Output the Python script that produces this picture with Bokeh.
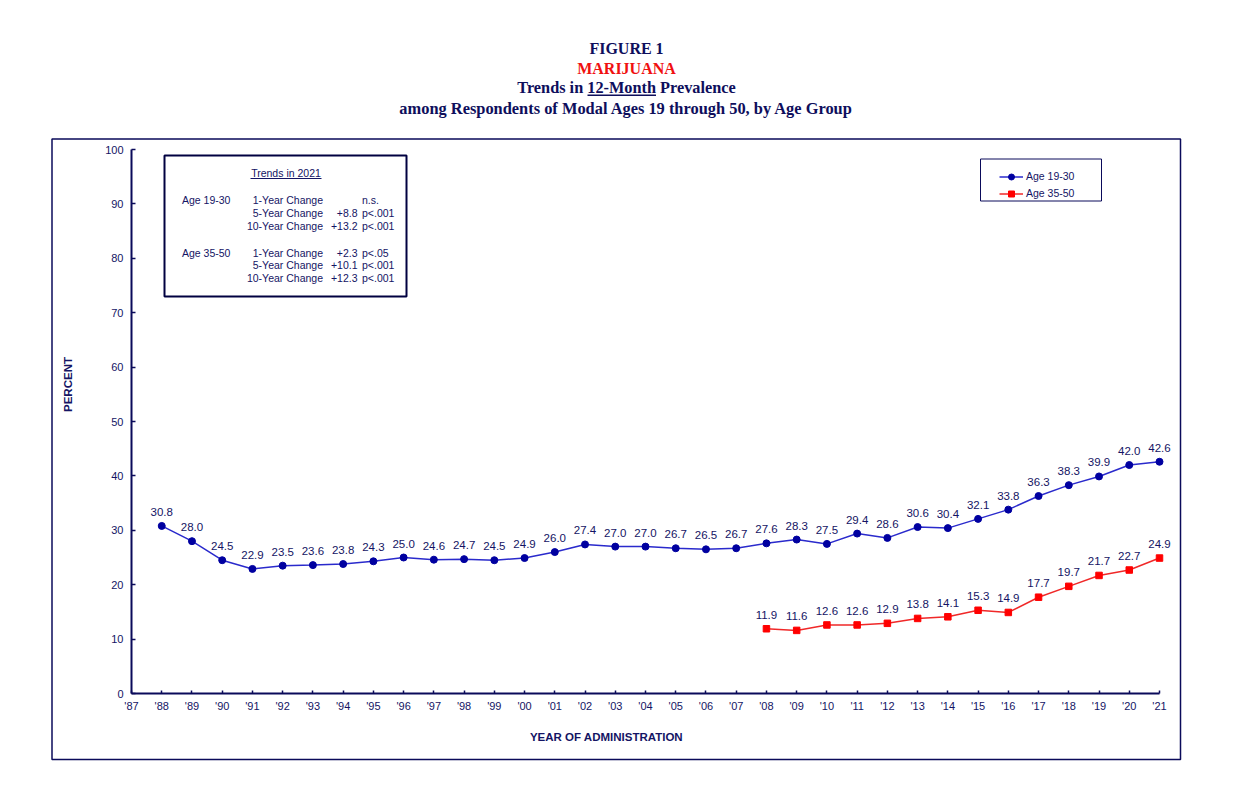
from bokeh.plotting import figure
from bokeh.models import (Range1d, FixedTicker, ColumnDataSource, LabelSet, Label,
                          BoxAnnotation, Legend, LegendItem)
from bokeh.embed import file_html
from bokeh.resources import INLINE
from bokeh.core.properties import value
import math

# ---------------- data ----------------
years_19_30 = [1988, 1989, 1990, 1991, 1992, 1993, 1994, 1995, 1996, 1997, 1998, 1999,
               2000, 2001, 2002, 2003, 2004, 2005, 2006, 2007, 2008, 2009, 2010, 2011,
               2012, 2013, 2014, 2015, 2016, 2017, 2018, 2019, 2020, 2021]
prev_19_30 = [30.8, 28.0, 24.5, 22.9, 23.5, 23.6, 23.8, 24.3, 25.0, 24.6, 24.7, 24.5,
              24.9, 26.0, 27.4, 27.0, 27.0, 26.7, 26.5, 26.7, 27.6, 28.3, 27.5, 29.4,
              28.6, 30.6, 30.4, 32.1, 33.8, 36.3, 38.3, 39.9, 42.0, 42.6]
years_35_50 = [2008, 2009, 2010, 2011, 2012, 2013, 2014, 2015, 2016, 2017, 2018, 2019,
               2020, 2021]
prev_35_50 = [11.9, 11.6, 12.6, 12.6, 12.9, 13.8, 14.1, 15.3, 14.9, 17.7, 19.7, 21.7,
              22.7, 24.9]

tick_years = [1987, 1988, 1989, 1990, 1991, 1992, 1993, 1994, 1995, 1996, 1997, 1998,
              1999, 2000, 2001, 2002, 2003, 2004, 2005, 2006, 2007, 2008, 2009, 2010,
              2011, 2012, 2013, 2014, 2015, 2016, 2017, 2018, 2019, 2020, 2021]
tick_labels = ["'87", "'88", "'89", "'90", "'91", "'92", "'93", "'94", "'95", "'96",
               "'97", "'98", "'99", "'00", "'01", "'02", "'03", "'04", "'05", "'06",
               "'07", "'08", "'09", "'10", "'11", "'12", "'13", "'14", "'15", "'16",
               "'17", "'18", "'19", "'20", "'21"]
y_ticks = [0, 10, 20, 30, 40, 50, 60, 70, 80, 90, 100]

series_names = ["Age 19-30", "Age 35-50"]
title_lines = ["FIGURE 1", "MARIJUANA", "Trends in 12-Month Prevalence",
               "among Respondents of Modal Ages 19 through 50, by Age Group"]
x_title = "YEAR OF ADMINISTRATION"
y_title = "PERCENT"

inset_title = "Trends in 2021"
inset_groups = ["Age 19-30", "Age 35-50"]
inset_changes = ["1-Year Change", "5-Year Change", "10-Year Change"]
inset_values = [["", "+8.8", "+13.2"], ["+2.3", "+10.1", "+12.3"]]
inset_sig = [["n.s.", "p<.001", "p<.001"], ["p<.05", "p<.001", "p<.001"]]

# ---------------- styles ----------------
NAVY = "#141464"
TITLE_NAVY = "#0E0E5C"
AXIS = "#0A0A5A"
BLUE_LINE = "#2A2ACC"
BLUE_MARK = "#0000A0"
RED_LINE = "#F02828"
RED_MARK = "#FF0000"
SANS = "Liberation Sans"
SERIF = "Liberation Serif"

W, H = 1229, 788
AX_L, AX_R, AX_T, AX_B = 131, 1159, 149, 693   # axis box on the page (1987..2021, 0..100)
XPX = (AX_R - AX_L) / (2021 - 1987)
YPX = (AX_B - AX_T) / 100.0


def dx(px):  # page px -> data x
    return 1987 + (px - AX_L) / XPX


def dy(py):  # page px -> data y
    return (AX_B - py) / YPX


# the frame covers the whole canvas; axes are pinned with fixed_location
p = figure(width=W, height=H, x_range=Range1d(dx(0), dx(W)), y_range=Range1d(dy(H), dy(0)),
           output_backend="svg", toolbar_location=None, title=None,
           min_border=0, min_border_left=0, min_border_right=0, min_border_top=0,
           min_border_bottom=0)
p.grid.visible = False
p.outline_line_color = None
p.background_fill_color = "white"
p.border_fill_color = "white"

# axes
for ax in (p.xaxis[0], p.yaxis[0]):
    ax.axis_line_color = AXIS
    ax.axis_line_width = 2
    ax.major_tick_line_color = AXIS
    ax.major_tick_line_width = 1.5
    ax.major_tick_out = 0
    ax.minor_tick_line_color = None
    ax.major_label_text_font = SANS
    ax.major_label_text_font_size = "11px"
    ax.major_label_text_color = NAVY

p.xaxis.fixed_location = 0
p.yaxis.fixed_location = 1987
p.xaxis.ticker = FixedTicker(ticks=tick_years)
p.xaxis.major_label_overrides = {y: t for y, t in zip(tick_years, tick_labels)}
p.xaxis.bounds = (1987, 2021)
p.xaxis.major_tick_in = 3
p.xaxis.major_label_standoff = 6
p.yaxis.ticker = FixedTicker(ticks=y_ticks)
p.yaxis.bounds = (0, 100)
p.yaxis.major_tick_in = 4
p.yaxis.major_label_standoff = 8

# series
src1 = ColumnDataSource(dict(x=years_19_30, y=prev_19_30,
                             label=[f"{v:.1f}" for v in prev_19_30]))
src2 = ColumnDataSource(dict(x=years_35_50, y=prev_35_50,
                             label=[f"{v:.1f}" for v in prev_35_50]))

l1 = p.line("x", "y", source=src1, line_color=BLUE_LINE, line_width=1.5)
s1 = p.scatter("x", "y", source=src1, marker="circle", size=7, fill_color=BLUE_MARK,
               line_color=BLUE_MARK)
l2 = p.line("x", "y", source=src2, line_color=RED_LINE, line_width=1.5)
s2 = p.scatter("x", "y", source=src2, marker="square", size=6.5, fill_color=RED_MARK,
               line_color=RED_MARK)

for src in (src1, src2):
    p.add_layout(LabelSet(x="x", y="y", text="label", source=src, y_offset=14,
                          text_align="center", text_baseline="middle",
                          text_font=value(SANS), text_font_size=value("11.5px"),
                          text_color=NAVY))

# legend
p.add_layout(BoxAnnotation(left=dx(980), right=dx(1101), top=dy(158.5), bottom=dy(200.5),
                           fill_alpha=0, line_color=AXIS, line_alpha=1, line_width=1))
legend = Legend(items=[LegendItem(label=series_names[0], renderers=[l1, s1]),
                       LegendItem(label=series_names[1], renderers=[l2, s2])],
                location=(1004 - 5, H - 200.5), padding=5, margin=0, spacing=2,
                glyph_width=24, glyph_height=15, label_height=15, label_standoff=3,
                label_text_font=SANS, label_text_font_size="10.5px",
                label_text_color=NAVY, border_line_color=None,
                background_fill_alpha=0)
p.add_layout(legend)

# outer frame
p.add_layout(BoxAnnotation(left=dx(51.5), right=dx(1180), top=dy(138.5), bottom=dy(759),
                           fill_alpha=0, line_color=AXIS, line_alpha=1, line_width=1.5,
                           level="underlay"))

# titles
title_y = [48.0, 68.0, 87.3, 107.8]
title_sizes = ["16px", "16px", "16.3px", "16.4px"]
title_colors = [TITLE_NAVY, "#F01010", TITLE_NAVY, TITLE_NAVY]
for txt, ty, fs, col in zip(title_lines, title_y, title_sizes, title_colors):
    p.add_layout(Label(x=dx(626), y=dy(ty), text=txt, text_align="center",
                       text_baseline="middle", text_font=SERIF,
                       text_font_style="bold", text_font_size=fs, text_color=col))
# underline of "12-Month"
p.add_layout(BoxAnnotation(left=dx(587), right=dx(655.5), top=dy(94.0), bottom=dy(95.4),
                           fill_color=TITLE_NAVY, fill_alpha=1, line_alpha=0))

# axis titles
p.add_layout(Label(x=dx(606), y=dy(736), text=x_title, text_align="center",
                   text_baseline="middle", text_font=SANS, text_font_style="bold",
                   text_font_size="11.5px", text_color=NAVY))
p.add_layout(Label(x=dx(67), y=dy(384), text=y_title, text_align="center",
                   text_baseline="middle", angle=math.pi / 2, text_font=SANS,
                   text_font_style="bold", text_font_size="11.5px", text_color=NAVY))

# inset box
p.add_layout(BoxAnnotation(left=dx(164), right=dx(406), top=dy(155), bottom=dy(296),
                           fill_color="white", fill_alpha=1, line_color="#000040",
                           line_alpha=1, line_width=2))
p.add_layout(Label(x=dx(285.5), y=dy(172.5), text=inset_title, text_align="center",
                   text_baseline="middle", text_font=SANS, text_font_size="10.5px",
                   text_color=NAVY))
p.add_layout(BoxAnnotation(left=dx(250), right=dx(321), top=dy(177.5), bottom=dy(178.5),
                           fill_color=NAVY, fill_alpha=1, line_alpha=0))

row_y = [[199.5, 212.3, 225.0], [252.0, 264.7, 277.3]]
for g in range(2):
    p.add_layout(Label(x=dx(181.5), y=dy(row_y[g][0]), text=inset_groups[g],
                       text_align="left", text_baseline="middle", text_font=SANS,
                       text_font_size="10.5px", text_color=NAVY))
    for r in range(3):
        yy = dy(row_y[g][r])
        p.add_layout(Label(x=dx(322.5), y=yy, text=inset_changes[r], text_align="right",
                           text_baseline="middle", text_font=SANS,
                           text_font_size="10.5px", text_color=NAVY))
        if inset_values[g][r]:
            p.add_layout(Label(x=dx(357), y=yy, text=inset_values[g][r],
                               text_align="right", text_baseline="middle",
                               text_font=SANS, text_font_size="10.5px",
                               text_color=NAVY))
        p.add_layout(Label(x=dx(361.5), y=yy, text=inset_sig[g][r], text_align="left",
                           text_baseline="middle", text_font=SANS,
                           text_font_size="10.5px", text_color=NAVY))

open("out.html", "w").write(file_html(p, INLINE))
